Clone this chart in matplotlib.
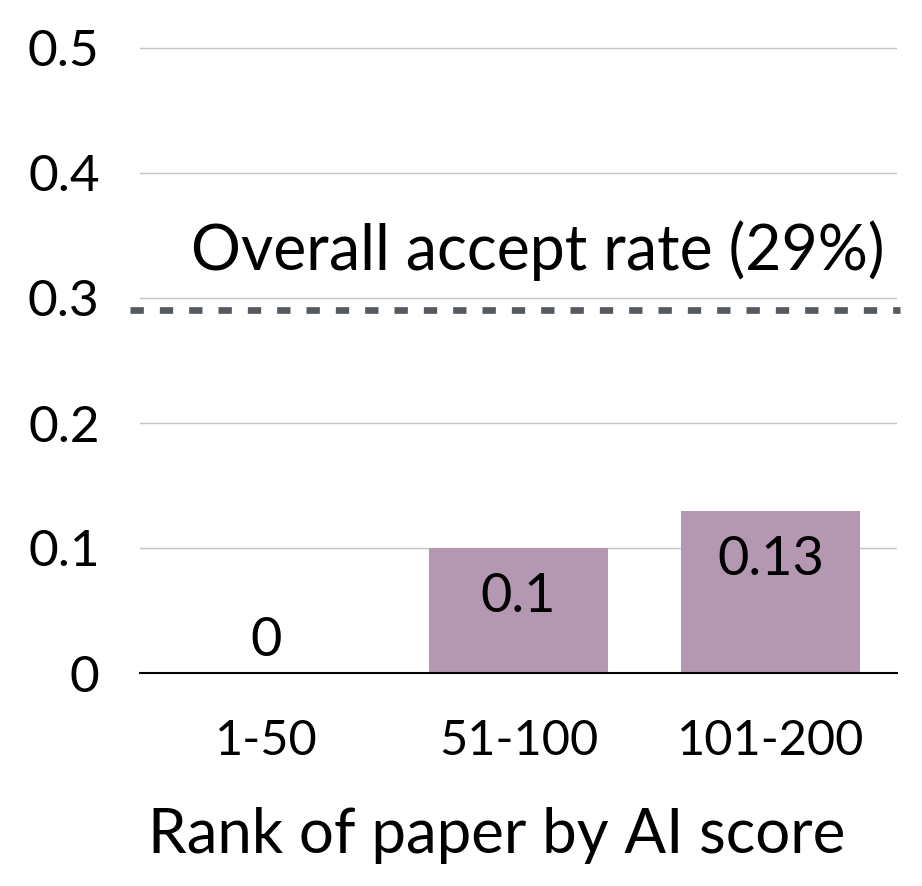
import matplotlib
matplotlib.use('Agg')
import matplotlib.pyplot as plt

categories = ['1-50', '51-100', '101-200']
accept_rate = [0.0, 0.1, 0.13]
bar_labels = ['0', '0.1', '0.13']
overall_rate = 0.29
y_ticks = [0, 0.1, 0.2, 0.3, 0.4, 0.5]
y_tick_labels = ['0', '0.1', '0.2', '0.3', '0.4', '0.5']

plt.rcParams['font.family'] = ['Lato', 'DejaVu Sans']

fig = plt.figure(figsize=(9.22, 8.86), dpi=100)
ax = fig.add_axes([140 / 922, 1 - 673 / 886, (897 - 140) / 922, (673 - 40) / 886])

x = range(len(categories))
ax.bar(x, accept_rate, width=0.71, color='#b497b0', zorder=2)

for i, v in enumerate(accept_rate):
    ly = v - 0.039 if v > 0.05 else v + 0.026
    ax.text(i, ly, bar_labels[i], ha='center', va='center', fontsize=39, color='black', zorder=3)

ax.axhline(overall_rate, xmin=-0.013, xmax=1.004, color='#555a60', lw=4.8,
           linestyle=(0, (2.0, 2.4)), dash_capstyle='butt', clip_on=False, zorder=3)
ax.text(2.452, overall_rate + 0.048, 'Overall accept rate (29%)', ha='right', va='center',
        fontsize=45, color='black')

ax.set_xlim(-0.5, 2.5)
ax.set_ylim(0, 0.5064)
ax.set_yticks(y_ticks)
ax.set_yticklabels(y_tick_labels)
ax.set_xticks(list(x))
ax.set_xticklabels(categories)
ax.tick_params(axis='y', length=0, pad=29, labelsize=37)
ax.tick_params(axis='x', length=0, pad=33, labelsize=35)
ax.grid(axis='y', color='#c4c4c4', lw=1, zorder=0)
ax.set_axisbelow(True)
for s in ['top', 'right', 'left']:
    ax.spines[s].set_visible(False)
ax.spines['bottom'].set_linewidth(1.5)
ax.spines['bottom'].set_color('black')
ax.spines['bottom'].set_zorder(4)

ax.set_xlabel('Rank of paper by AI score', fontsize=44.5)
ax.xaxis.set_label_coords(0.4716, -0.211)

fig.savefig('out.png', dpi=100)
